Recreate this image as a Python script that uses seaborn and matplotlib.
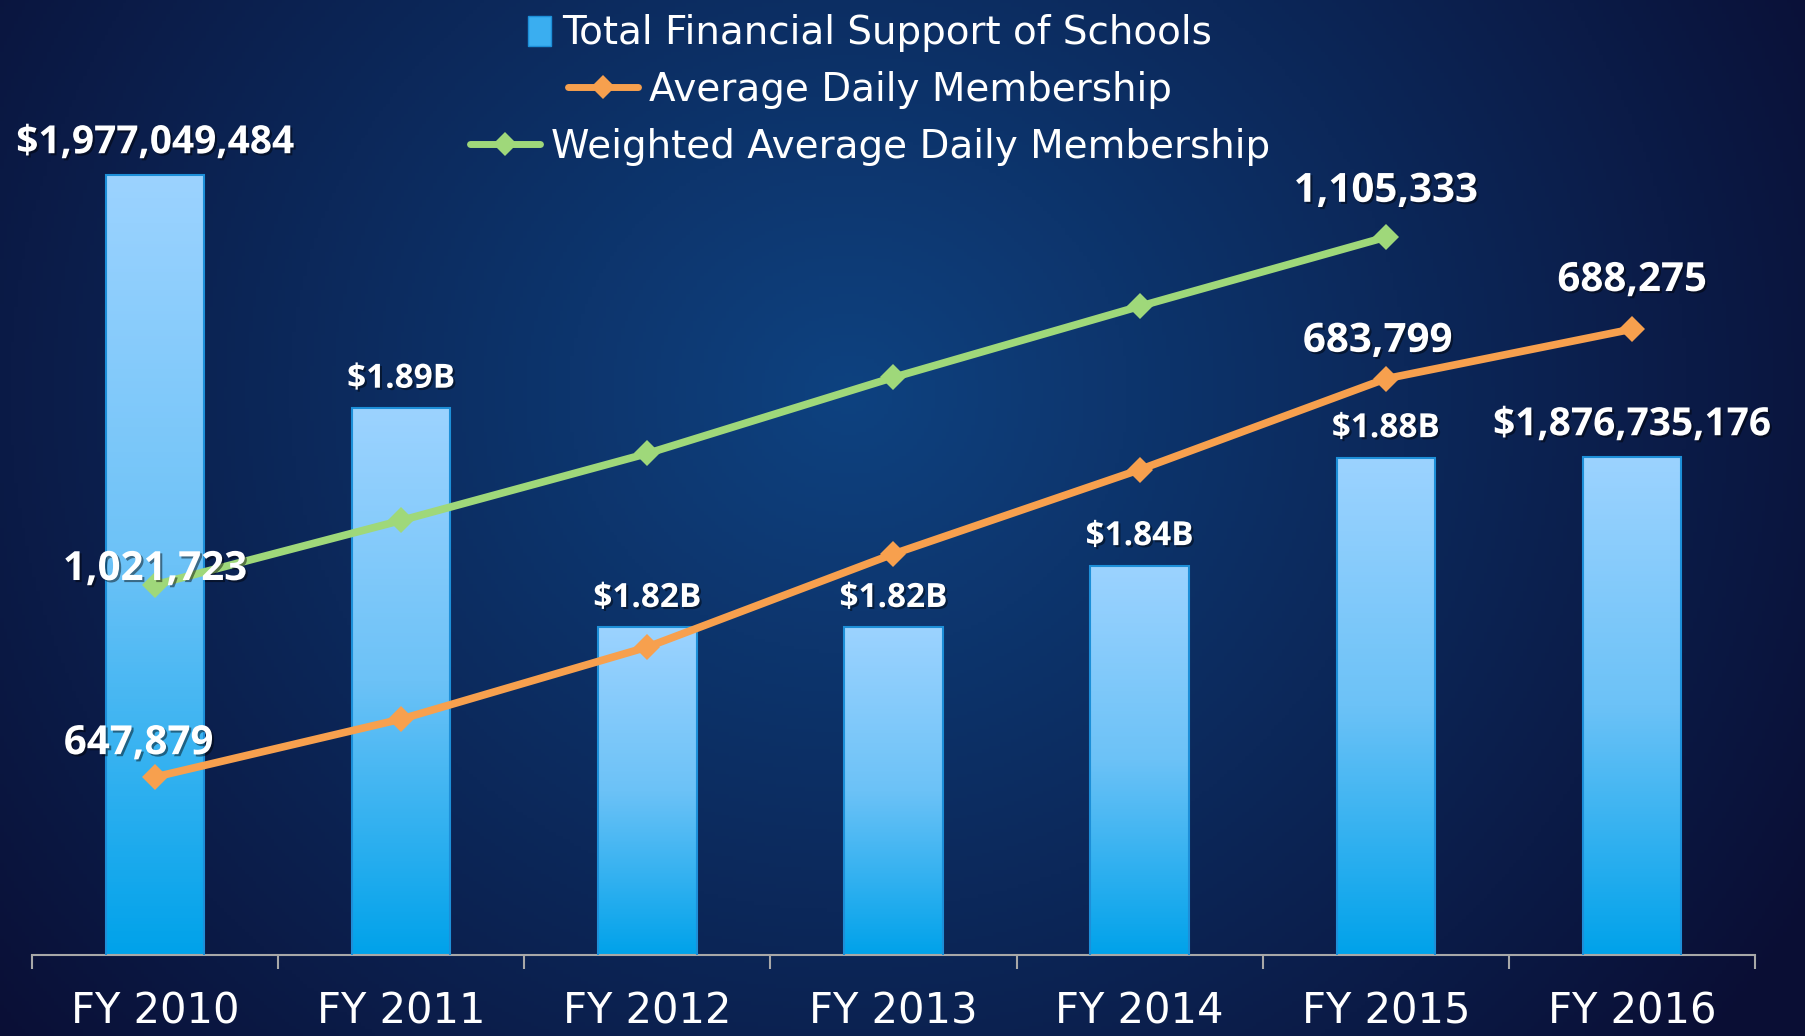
import numpy as np
import pandas as pd
import seaborn as sns
import matplotlib.pyplot as plt
import matplotlib.patheffects as pe
from matplotlib.lines import Line2D
from matplotlib.patches import Patch
from matplotlib.colors import LinearSegmentedColormap

# chart data
years = ["FY 2010", "FY 2011", "FY 2012", "FY 2013", "FY 2014", "FY 2015", "FY 2016"]
support = [1977049484, 1894000000, 1816000000, 1816000000, 1838000000, 1876400000, 1876735176]
support_labels = ["$1,977,049,484", "$1.89B", "$1.82B", "$1.82B", "$1.84B", "$1.88B", "$1,876,735,176"]
adm = [647879, 653100, 659600, 668000, 675600, 683799, 688275]
adm_labels = ["647,879", "", "", "", "", "683,799", "688,275"]
wadm = [1021723, 1037200, 1053300, 1071600, 1088700, 1105333, np.nan]
wadm_labels = ["1,021,723", "", "", "", "", "1,105,333", ""]

df = pd.DataFrame({"year": years, "support": support, "adm": adm, "wadm": wadm})
df["pos"] = np.arange(len(df))

sns.set_style("white")
narrow = ["Liberation Sans Narrow", "DejaVu Sans"]
bold = ["Open Sans", "DejaVu Sans"]
plt.rcParams["font.family"] = narrow

ORANGE = "#f7a04e"
GREEN = "#9fd87a"
AXIS = "#a8a8a8"

fig = plt.figure(figsize=(18.05, 10.36), dpi=100)

# background radial gradient
bg = fig.add_axes([0, 0, 1, 1], zorder=-5)
yy, xx = np.mgrid[0:1:300j, 0:1:500j]
r = np.sqrt(((xx - 0.47) / 0.62) ** 2 + ((yy - 0.62) / 1.0) ** 2)
r = np.clip(r, 0, 1)
c_in = np.array([14, 66, 128]) / 255
c_out = np.array([10, 14, 52]) / 255
img = c_in[None, None, :] * (1 - r[..., None]) + c_out[None, None, :] * r[..., None]
bg.imshow(img, extent=[0, 1, 0, 1], aspect="auto", origin="lower")
bg.axis("off")

ax = fig.add_axes([0.0177, 0.0782, 0.9546, 0.9218])
ax.patch.set_visible(False)

sns.barplot(data=df, x="year", y="support", ax=ax, width=0.4, color="#5bbcf5")
ymin, ymax = 1.6995e9, 2.0392e9

bar_cmap = LinearSegmentedColormap.from_list("bar", ["#00a2ea", "#6cc2f7", "#9cd3ff"])
grad = np.linspace(0, 1, 256).reshape(-1, 1)
for p in ax.patches:
    x0 = p.get_x()
    w = p.get_width()
    top = p.get_height()
    im = ax.imshow(grad, extent=[x0, x0 + w, ymin, top], aspect="auto",
                   cmap=bar_cmap, origin="lower", zorder=2)
    im.set_clip_path(p)
    p.set_facecolor("none")
    p.set_edgecolor("#1d8fd8")
    p.set_linewidth(1.5)
    p.set_zorder(3)

ax.set_xlim(-0.5, 6.5)
ax.set_ylim(ymin, ymax)

shadow = [pe.withSimplePatchShadow(offset=(1.5, -1.5), shadow_rgbFace="black", alpha=0.45)]

for i, lab in enumerate(support_labels):
    big = lab.count(",") > 0
    ax.annotate(lab, (i, support[i]), xytext=(0, 9), textcoords="offset points",
                ha="center", va="bottom", color="white", fontweight="bold",
                fontsize=28 if big else 24, family=bold, path_effects=shadow, zorder=5)

for s in ["top", "left", "right"]:
    ax.spines[s].set_visible(False)
ax.spines["bottom"].set_color(AXIS)
ax.spines["bottom"].set_linewidth(1.5)
ax.set_yticks([])
ax.set_xlabel("")
ax.set_ylabel("")
ax.set_xticks(range(len(years)))
ax.set_xticklabels(years)
ax.set_xticks(np.arange(-0.5, 7, 1), minor=True)
ax.tick_params(axis="x", which="major", bottom=False, pad=22, labelsize=30, labelcolor="white")
ax.tick_params(axis="x", which="minor", bottom=True, direction="out", length=10, width=1.5, color=AXIS)

# average daily membership
ax2 = ax.twinx()
ax2.patch.set_visible(False)
sns.lineplot(data=df, x="pos", y="adm", ax=ax2, color=ORANGE, linewidth=5.5,
             marker="D", markersize=13, markeredgewidth=0)
ax2.set_ylim(631823, 717964)

# weighted average daily membership
ax3 = ax.twinx()
ax3.patch.set_visible(False)
sns.lineplot(data=df.dropna(), x="pos", y="wadm", ax=ax3, color=GREEN, linewidth=5.5,
             marker="D", markersize=13, markeredgewidth=0)
ax3.set_ylim(932690, 1162368)

for a in (ax2, ax3):
    a.set_xlim(-0.5, 6.5)
    a.axis("off")

adm_offsets = {0: (-12, 24), 5: (-6, 27), 6: (0, 35)}
for i, lab in enumerate(adm_labels):
    if lab:
        ax2.annotate(lab, (i, adm[i]), xytext=adm_offsets[i], textcoords="offset points",
                     ha="center", va="center", color="white", fontweight="bold",
                     fontsize=29, family=bold, path_effects=shadow, zorder=6)

wadm_offsets = {0: (0, 11), 5: (0, 33)}
for i, lab in enumerate(wadm_labels):
    if lab:
        ax3.annotate(lab, (i, wadm[i]), xytext=wadm_offsets[i], textcoords="offset points",
                     ha="center", va="center", color="white", fontweight="bold",
                     fontsize=29, family=bold, path_effects=shadow, zorder=6)

# legend, one centred row per series
rows = [
    (Patch(facecolor="#3aaef0", edgecolor="#1d8fd8"), "Total Financial Support of Schools", 0.968, 0.6),
    (Line2D([], [], color=ORANGE, lw=5, marker="D", markersize=12, markeredgewidth=0),
     "Average Daily Membership", 0.913, 1.8),
    (Line2D([], [], color=GREEN, lw=5, marker="D", markersize=12, markeredgewidth=0),
     "Weighted Average Daily Membership", 0.858, 1.8),
]
for handle, text, yc, hl in rows:
    fig.legend(handles=[handle], labels=[text], loc="center", bbox_to_anchor=(0.482, yc),
               frameon=False, fontsize=28, labelcolor="white", handlelength=hl,
               handleheight=0.8, handletextpad=0.3, borderpad=0)

fig.savefig("out.png", dpi=100)
